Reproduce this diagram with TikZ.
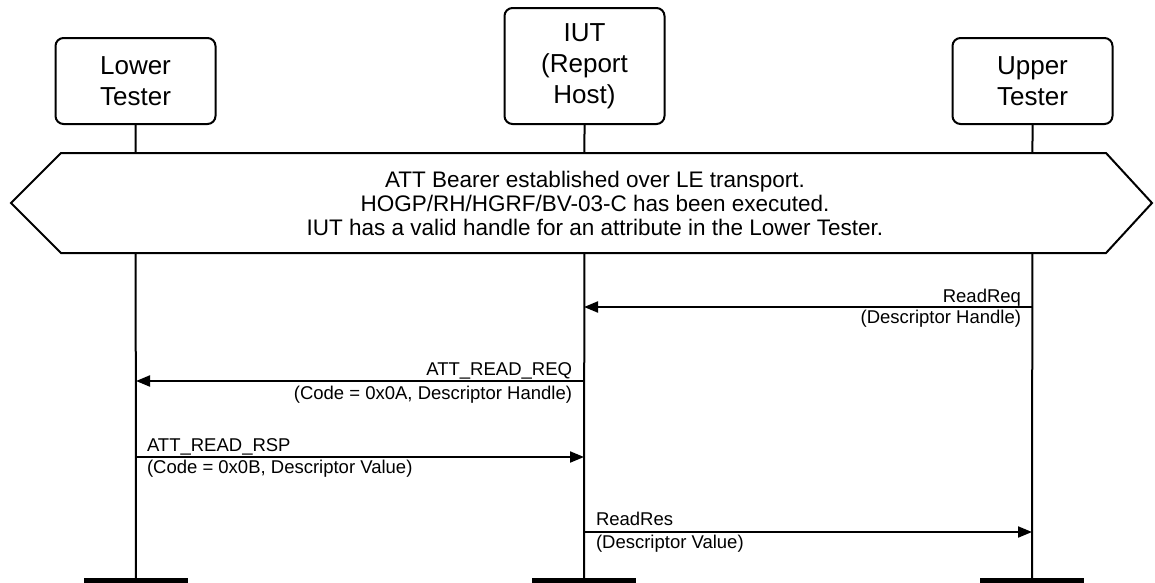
\documentclass[tikz,border=0pt]{standalone}
\usepackage{fontspec}
\setmainfont{Liberation Sans}
\usetikzlibrary{arrows.meta}
\begin{document}
\begin{tikzpicture}[x=1pt,y=-1pt, line width=2pt,
 actor/.style={draw, rounded corners=8pt, minimum width=160pt, line width=2pt, align=center, font=\fontsize{26}{31}\selectfont, inner sep=0pt},
 msg/.style={-{Triangle[length=14pt,width=11pt]}, line width=2pt},
 lbl/.style={font=\fontsize{18.5}{20}\selectfont, inner sep=0pt},
 cond/.style={align=center, font=\fontsize{22.5}{24}\selectfont, inner sep=0pt},
 bar/.style={fill=black, draw=none}]
\useasboundingbox (0,0) rectangle (1155,582);
% actors
\node[actor, minimum height=86pt] (lt) at (135.5,81) {Lower\\Tester};
\node[actor, minimum height=116pt] (iut) at (584.5,66) {IUT\\(Report\\Host)};
\node[actor, minimum height=86pt] (ut) at (1032.5,81) {Upper\\Tester};
% lifeline ends
\coordinate (ltend) at (136,582);
\coordinate (iutend) at (584,582);
\coordinate (utend) at (1032,582);
\draw (lt.south) -- (ltend);
\draw (iut.south) -- (iutend);
\draw (ut.south) -- (utend);
% bottom bars
\fill[bar] (84,578) rectangle (188,586);
\fill[bar] (532,578) rectangle (636,586);
\fill[bar] (980,578) rectangle (1084,586);
% condition hexagon
\draw[fill=white] (61,153) -- (1106,153) -- (1152,203) -- (1106,253) -- (61,253) -- (11,203) -- cycle;
\node[cond] (pre) at (595,203) {ATT Bearer established over LE transport.\\HOGP/RH/HGRF/BV-03-C has been executed.\\IUT has a valid handle for an attribute in the Lower Tester.};
% messages
\coordinate (m1s) at (1032,307); \coordinate (m1e) at (584,307);
\draw[msg] (m1s) -- (m1e);
\node[lbl, anchor=base east] (m1a) at (1022,302) {ReadReq};
\node[lbl, anchor=base east] (m1b) at (1022,323) {(Descriptor Handle)};
\coordinate (m2s) at (584,381); \coordinate (m2e) at (136,381);
\draw[msg] (m2s) -- (m2e);
\node[lbl, anchor=base east] (m2a) at (573,375) {ATT\_READ\_REQ};
\node[lbl, anchor=base east] (m2b) at (573,399) {(Code = 0x0A, Descriptor Handle)};
\coordinate (m3s) at (136,457); \coordinate (m3e) at (584,457);
\draw[msg] (m3s) -- (m3e);
\node[lbl, anchor=base west] (m3a) at (146,451) {ATT\_READ\_RSP};
\node[lbl, anchor=base west] (m3b) at (146,473) {(Code = 0x0B, Descriptor Value)};
\coordinate (m4s) at (584,532); \coordinate (m4e) at (1032,532);
\draw[msg] (m4s) -- (m4e);
\node[lbl, anchor=base west] (m4a) at (595,525) {ReadRes};
\node[lbl, anchor=base west] (m4b) at (595,548) {(Descriptor Value)};
\end{tikzpicture}
\end{document}
